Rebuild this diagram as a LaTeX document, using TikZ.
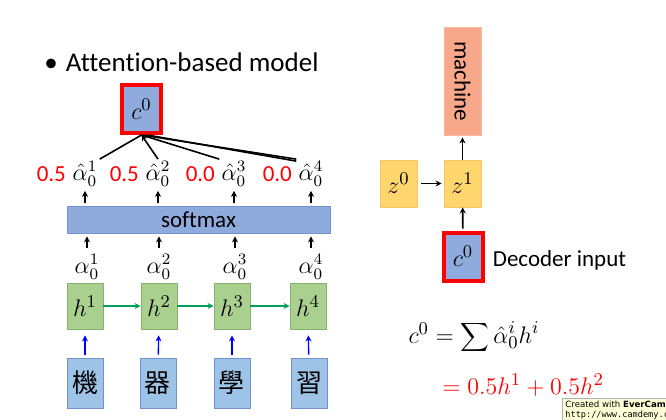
\documentclass[tikz,border=0pt]{standalone}
\usepackage{fontspec}
\setmainfont{Carlito}[Ligatures=NoCommon]
\newfontfamily\cjk{Noto Sans CJK TC}
\newfontfamily\wmfont{DejaVu Sans}
\newfontfamily\wmmono{DejaVu Sans Mono}
\usetikzlibrary{positioning,arrows.meta,calc}

\definecolor{boxblue}{RGB}{143,170,220}
\definecolor{boxblueline}{RGB}{115,145,205}
\definecolor{inblue}{RGB}{157,195,230}
\definecolor{hgreen}{RGB}{169,208,142}
\definecolor{hgreenline}{RGB}{135,178,108}
\definecolor{zyellow}{RGB}{255,214,110}
\definecolor{zyellowline}{RGB}{246,198,95}
\definecolor{outsalmon}{RGB}{247,168,138}
\definecolor{arrgreen}{RGB}{0,160,90}
\definecolor{wmyellow}{RGB}{255,255,215}

\begin{document}
\begin{tikzpicture}[x=0.5pt, y=-0.5pt,
  box/.style={rectangle, draw, inner sep=0pt, font=\fontsize{11.5}{13}\selectfont},
  ctx/.style={box, draw=red, line width=2pt, fill=boxblue, minimum width=19.5pt, minimum height=24pt, font=\fontsize{13}{15}\selectfont},
  hbox/.style={box, draw=hgreenline, fill=hgreen, minimum width=18pt, minimum height=23pt, font=\fontsize{13}{15}\selectfont},
  inbox/.style={box, draw=boxblueline, fill=inblue, minimum width=18pt, minimum height=25pt, font=\fontsize{13}{15}\selectfont\cjk},
  zbox/.style={box, draw=zyellowline, fill=zyellow, minimum width=18.5pt, minimum height=23.5pt, font=\fontsize{13}{15}\selectfont},
  weight/.style={inner sep=1pt, font=\fontsize{12}{14}\selectfont},
  num/.style={inner sep=0pt, text=red, font=\fontsize{11.5}{13}\selectfont},
  arrow/.style={-{Stealth[length=3pt, width=3pt]}, line width=0.8pt},
  harrow/.style={-{Stealth[length=3pt, width=3pt]}, line width=0.7pt, arrgreen},
  inarrow/.style={-{Stealth[length=3pt, width=3pt]}, line width=0.7pt, blue},
  wm/.style={draw=gray!60, fill=wmyellow, align=left, inner sep=1.5pt, font=\fontsize{4.3}{4.8}\selectfont\wmfont},
]
\useasboundingbox (0,0) rectangle (666,419);
\clip (0,0) rectangle (666,419);

% === ENCODER WITH ATTENTION ===
\node[anchor=west, inner sep=0pt, font=\fontsize{13.5}{16}\selectfont] (title) at (44,62) {\textbullet\hspace{4pt}Attention-based model};

\node[ctx] (c0) at (141.5,109) {$c^0$};

\node[weight] (ah1) at (85,174) {$\hat{\alpha}_0^1$};
\node[weight] (ah2) at (158,174) {$\hat{\alpha}_0^2$};
\node[weight] (ah3) at (234,174) {$\hat{\alpha}_0^3$};
\node[weight] (ah4) at (311,174) {$\hat{\alpha}_0^4$};
\node[num, left=2pt of ah1] (n1) {0.5};
\node[num, left=2pt of ah2] (n2) {0.5};
\node[num, left=2pt of ah3] (n3) {0.0};
\node[num, left=2pt of ah4] (n4) {0.0};

\draw[line width=0.8pt] (c0.south) -- (ah1.north east);
\draw[line width=0.8pt, -{Stealth[length=3pt, width=3pt]}] (ah2.north) -- (c0.south);
\draw[line width=0.8pt] (c0.south) -- (ah3.north west);
\draw[line width=0.8pt] (c0.south) -- (ah4.north west);
\draw[line width=0.8pt] ([xshift=3pt]c0.south) -- ([yshift=-1pt]ah4.north west);

\node[box, draw=boxblueline, fill=boxblue, minimum width=131.5pt, minimum height=13.5pt] (sm) at (198.5,219.5) {softmax};

\node[weight] (a1) at (87,267) {$\alpha_0^1$};
\node[weight] (a2) at (159,267) {$\alpha_0^2$};
\node[weight] (a3) at (235,267) {$\alpha_0^3$};
\node[weight] (a4) at (311,267) {$\alpha_0^4$};

\foreach \i in {1,...,4}{
  \draw[arrow, shorten <=1.5pt, shorten >=1pt] (sm.north -| ah\i) -- (ah\i);
  \draw[arrow, shorten <=2pt, shorten >=1.5pt] (a\i) -- (sm.south -| a\i);
}

\node[hbox] (h1) at (85,306) {$h^1$};
\node[hbox] (h2) at (159,306) {$h^2$};
\node[hbox] (h3) at (232,306) {$h^3$};
\node[hbox] (h4) at (308,306) {$h^4$};
\draw[harrow] (h1) -- (h2);
\draw[harrow] (h2) -- (h3);
\draw[harrow] (h3) -- (h4);

\node[inbox] (x1) at (85,383) {機};
\node[inbox] (x2) at (158,383) {器};
\node[inbox] (x3) at (232,383) {學};
\node[inbox] (x4) at (309,383) {習};
\foreach \i in {1,...,4}
  \draw[inarrow, shorten <=1.5pt, shorten >=3pt] (x\i) -- (h\i);

% === DECODER ===
\node[box, draw=outsalmon!80!white, fill=outsalmon, rotate=-90, minimum width=54pt, minimum height=18.5pt] (mach) at (462.5,81) {machine};
\node[zbox] (z0) at (398.5,183.5) {$z^0$};
\node[zbox] (z1) at (462.5,183.5) {$z^1$};
\node[ctx] (c0r) at (463,256.5) {$c^0$};
\node[box, draw=none, right=4pt of c0r, yshift=-2pt] (dec) {Decoder input};

\draw[arrow, shorten >=1pt] (z1) -- (mach);
\draw[arrow, shorten <=2pt, shorten >=1pt] (z0) -- (z1);
\draw[arrow, shorten <=1pt] (c0r) -- (z1);

\node[inner sep=0pt, font=\fontsize{13}{15}\selectfont] (eq1) at (474,337) {$c^0=\displaystyle\sum\hat{\alpha}_0^i h^i$};
\node[inner sep=0pt, anchor=west, text=red, font=\fontsize{13}{15}\selectfont] (eq2) at (442,385) {$=0.5h^1+0.5h^2$};

\node[wm, anchor=north west] (mark) at (562,398) {Created with \textbf{EverCam}.\\{\wmmono http://www.camdemy.com}};
\end{tikzpicture}
\end{document}
